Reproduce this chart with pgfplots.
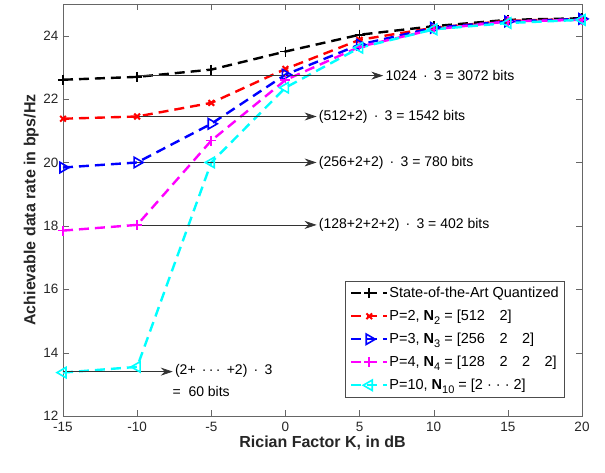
\documentclass[border=0pt]{standalone}
\usepackage{fontspec}
\setmainfont{Liberation Sans}
\usepackage{pgfplots}
\pgfplotsset{compat=1.18}
\usetikzlibrary{arrows.meta}
\definecolor{mcyan}{rgb}{0,1,1}
\definecolor{mmagenta}{rgb}{1,0,1}
\newcommand{\sub}[1]{\raisebox{-4pt}{\fontsize{11}{12}\selectfont #1}}

\begin{document}
\begin{tikzpicture}
\begin{axis}[
    scale only axis, width=519pt, height=412pt,
    xmin=-15, xmax=20, ymin=12, ymax=25,
    xtick={-15,-10,...,20}, ytick={12,14,...,24},
    tick align=inside, tick pos=both,
    axis line style={black!60}, tick style={black!60},
    major tick length=6pt,
    /pgf/number format/assume math mode=true,
    ticklabel style={font=\fontsize{13.5}{15}\selectfont, text=black!85},
    xticklabel style={yshift=-3pt},
    yticklabel style={xshift=-1pt},
    xlabel={\textbf{Rician Factor K, in dB}},
    ylabel={\textbf{Achievable data rate in bps/Hz}},
    label style={font=\fontsize{16}{18}\selectfont, text=black!85},
    xlabel style={yshift=3pt},
    ylabel style={yshift=-2pt},
    every axis plot/.append style={line width=2.4pt, dash pattern=on 10pt off 6pt},
    legend image code/.code={
        \draw[mark repeat=2, mark phase=2] plot coordinates {(0pt,0pt) (18pt,0pt) (36pt,0pt)};},
    legend style={at={(0.967,0.045)}, anchor=south east, draw=black!70,
        font=\fontsize{14.5}{16}\selectfont, row sep=9pt, inner sep=5pt,
        nodes={inner sep=1pt}},
    legend cell align=left,
]
\addplot[black, mark=+, mark size=5pt, mark options={solid, line width=1.6pt}] coordinates {
    (-15,22.61) (-10,22.70) (-5,22.93) (0,23.50) (5,24.03) (10,24.30) (15,24.50) (20,24.55)};
\addplot[red, mark=x, mark size=4pt, mark options={solid, line width=2pt}] coordinates {
    (-15,21.38) (-10,21.45) (-5,21.88) (0,22.95) (5,23.87) (10,24.25) (15,24.47) (20,24.53)};
\addplot[blue, mark=triangle, mark size=6pt, mark options={solid, rotate=-90, line width=1.6pt}] coordinates {
    (-15,19.84) (-10,20.00) (-5,21.22) (0,22.77) (5,23.72) (10,24.25) (15,24.45) (20,24.53)};
\addplot[mmagenta, mark=+, mark size=5pt, mark options={solid, line width=1.6pt}] coordinates {
    (-15,17.85) (-10,18.03) (-5,20.69) (0,22.60) (5,23.65) (10,24.20) (15,24.45) (20,24.50)};
\addplot[mcyan, mark=triangle, mark size=6pt, mark options={solid, rotate=90, line width=1.6pt}] coordinates {
    (-15,13.37) (-10,13.55) (-5,20.00) (0,22.36) (5,23.62) (10,24.20) (15,24.40) (20,24.50)};
\legend{State-of-the-Art Quantized,
    {P=2, \textbf{N}\sub{2} = [512\quad 2]},
    {P=3, \textbf{N}\sub{3} = [256\quad 2\quad 2]},
    {P=4, \textbf{N}\sub{4} = [128\quad 2\quad 2\quad 2]},
    {P=10, \textbf{N}\sub{10} = [2 · · · 2]}}

\begin{scope}[-{Stealth[length=12pt,width=8pt]}, black!80, line width=0.7pt,
    every node/.style={anchor=west, font=\fontsize{14}{16}\selectfont, black, inner sep=2pt}]
\draw (axis cs:-10,22.74) -- (axis cs:6.6,22.74) node {1024 \,·\, 3 = 3072 bits};
\draw (axis cs:-10,21.45) -- (axis cs:2.1,21.45) node {(512+2) \,·\, 3 = 1542 bits};
\draw (axis cs:-10,20.00) -- (axis cs:2.1,20.00) node {(256+2+2) \,·\, 3 = 780 bits};
\draw (axis cs:-10,18.03) -- (axis cs:2.1,18.03) node {(128+2+2+2) \,·\, 3 = 402 bits};
\draw (axis cs:-15,13.40) -- (axis cs:-7.6,13.40) node[yshift=1pt] {(2+ \,·\,·\,·\, +2) \,·\, 3};
\end{scope}
\node[anchor=west, font=\fontsize{14}{16}\selectfont] at (axis cs:-7.85,12.78) {=\ \ 60 bits};
\end{axis}
\path[use as bounding box] (-63pt,-56pt) rectangle (542pt,416pt);
\end{tikzpicture}
\end{document}
